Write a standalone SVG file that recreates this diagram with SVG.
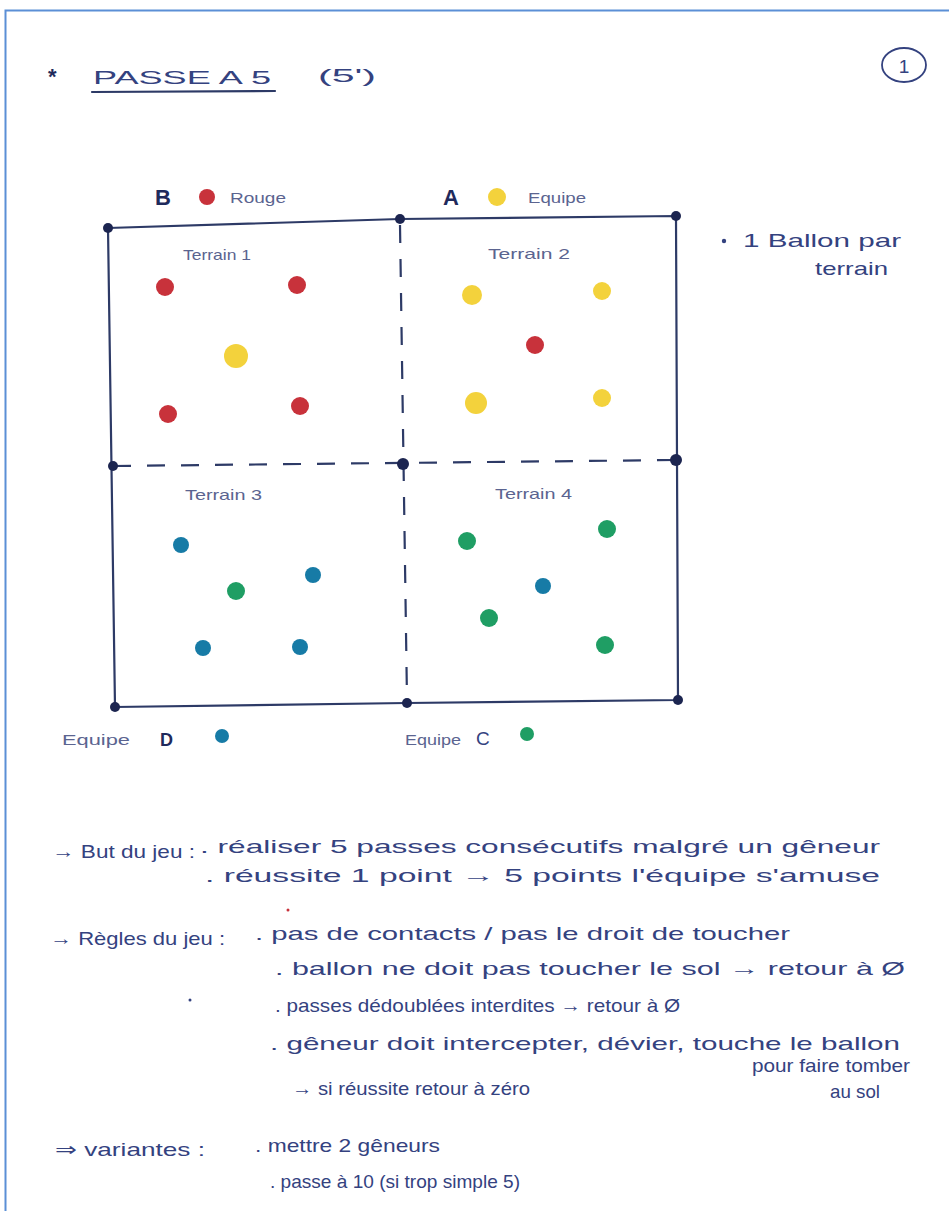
<svg xmlns="http://www.w3.org/2000/svg" width="949" height="1211" viewBox="0 0 949 1211">
<style>
.ink{font-family:"Liberation Sans","DejaVu Sans",sans-serif;fill:#34427f;font-size:19px}
.lbl{font-family:"Liberation Sans","DejaVu Sans",sans-serif;fill:#5b6490;font-size:15px}
.bold{font-family:"Liberation Sans","DejaVu Sans",sans-serif;fill:#1f2a5c;font-weight:bold}
.line{stroke:#2d3a66;stroke-width:2.2;fill:none;stroke-linecap:round}
.dash{stroke:#2d3a66;stroke-width:2.2;fill:none;stroke-dasharray:18 16}
.corner{fill:#1c2550}
.red{fill:#c8323b}.yel{fill:#f3d23c}.blu{fill:#177ba6}.grn{fill:#1f9e64}
</style>
<rect x="0" y="0" width="949" height="1211" fill="#ffffff"/>
<rect x="5.5" y="10.5" width="960" height="1230" fill="none" stroke="#5b8fd6" stroke-width="2"/>

<g id="title">
<text x="48" y="84" class="bold" font-size="22">*</text>
<text x="93" y="84" class="ink" font-size="28" textLength="178" lengthAdjust="spacingAndGlyphs">PASSE A 5</text>
<line x1="92" y1="92" x2="275" y2="91" class="line"/>
<text x="318" y="82" class="ink" font-size="28" textLength="58" lengthAdjust="spacingAndGlyphs">(5')</text>
<ellipse cx="904" cy="65" rx="22" ry="17" fill="none" stroke="#34427f" stroke-width="1.8"/>
<text x="904" y="73" class="ink" font-size="20" text-anchor="middle">1</text>
</g>

<g id="legend">
<text x="155" y="205" class="bold" font-size="22">B</text>
<circle cx="207" cy="197" r="8" class="red"/>
<text x="230" y="203" class="lbl" textLength="56" lengthAdjust="spacingAndGlyphs">Rouge</text>
<text x="443" y="205" class="bold" font-size="22">A</text>
<circle cx="497" cy="197" r="9" class="yel"/>
<text x="528" y="203" class="lbl" textLength="58" lengthAdjust="spacingAndGlyphs">Equipe</text>
<text x="62" y="745" class="lbl" textLength="68" lengthAdjust="spacingAndGlyphs">Equipe</text>
<text x="160" y="746" class="bold" font-size="18">D</text>
<circle cx="222" cy="736" r="7" class="blu"/>
<text x="405" y="745" class="lbl" textLength="56" lengthAdjust="spacingAndGlyphs">Equipe</text>
<text x="476" y="745" class="ink" font-size="20">C</text>
<circle cx="527" cy="734" r="7" class="grn"/>
</g>

<g id="field">
<path d="M108 228 L400 219 L676 216 L678 700 L407 703 L115 707 Z" class="line"/>
<line x1="113" y1="466" x2="676" y2="460" class="dash"/>
<line x1="400" y1="225" x2="407" y2="700" class="dash"/>
<circle cx="108" cy="228" r="5" class="corner"/>
<circle cx="400" cy="219" r="5" class="corner"/>
<circle cx="676" cy="216" r="5" class="corner"/>
<circle cx="113" cy="466" r="5" class="corner"/>
<circle cx="403" cy="464" r="6" class="corner"/>
<circle cx="676" cy="460" r="6" class="corner"/>
<circle cx="115" cy="707" r="5" class="corner"/>
<circle cx="407" cy="703" r="5" class="corner"/>
<circle cx="678" cy="700" r="5" class="corner"/>
</g>

<g id="terrain1">
<text x="183" y="260" class="lbl" textLength="68" lengthAdjust="spacingAndGlyphs">Terrain 1</text>
<circle cx="165" cy="287" r="9" class="red"/>
<circle cx="297" cy="285" r="9" class="red"/>
<circle cx="168" cy="414" r="9" class="red"/>
<circle cx="300" cy="406" r="9" class="red"/>
<circle cx="236" cy="356" r="12" class="yel"/>
</g>
<g id="terrain2">
<text x="488" y="259" class="lbl" textLength="82" lengthAdjust="spacingAndGlyphs">Terrain 2</text>
<circle cx="472" cy="295" r="10" class="yel"/>
<circle cx="602" cy="291" r="9" class="yel"/>
<circle cx="476" cy="403" r="11" class="yel"/>
<circle cx="602" cy="398" r="9" class="yel"/>
<circle cx="535" cy="345" r="9" class="red"/>
</g>
<g id="terrain3">
<text x="185" y="500" class="lbl" textLength="77" lengthAdjust="spacingAndGlyphs">Terrain 3</text>
<circle cx="181" cy="545" r="8" class="blu"/>
<circle cx="313" cy="575" r="8" class="blu"/>
<circle cx="203" cy="648" r="8" class="blu"/>
<circle cx="300" cy="647" r="8" class="blu"/>
<circle cx="236" cy="591" r="9" class="grn"/>
</g>
<g id="terrain4">
<text x="495" y="499" class="lbl" textLength="77" lengthAdjust="spacingAndGlyphs">Terrain 4</text>
<circle cx="467" cy="541" r="9" class="grn"/>
<circle cx="607" cy="529" r="9" class="grn"/>
<circle cx="489" cy="618" r="9" class="grn"/>
<circle cx="605" cy="645" r="9" class="grn"/>
<circle cx="543" cy="586" r="8" class="blu"/>
</g>

<g id="note">
<circle cx="724" cy="241" r="2.2" fill="#34427f"/>
<text x="743" y="247" class="ink" font-size="18" textLength="158" lengthAdjust="spacingAndGlyphs">1 Ballon par</text>
<text x="815" y="275" class="ink" font-size="18" textLength="73" lengthAdjust="spacingAndGlyphs">terrain</text>
</g>

<g id="rules">
<text x="52" y="858" class="ink" textLength="143" lengthAdjust="spacingAndGlyphs">→ But du jeu :</text>
<text x="200" y="853" class="ink" textLength="680" lengthAdjust="spacingAndGlyphs">. réaliser 5 passes consécutifs malgré un gêneur</text>
<text x="205" y="882" class="ink" textLength="675" lengthAdjust="spacingAndGlyphs">. réussite 1 point → 5 points l'équipe s'amuse</text>
<circle cx="288" cy="910" r="1.5" fill="#c8323b"/>
<text x="50" y="945" class="ink" textLength="175" lengthAdjust="spacingAndGlyphs">→ Règles du jeu :</text>
<text x="255" y="940" class="ink" textLength="535" lengthAdjust="spacingAndGlyphs">. pas de contacts / pas le droit de toucher</text>
<text x="275" y="975" class="ink" textLength="630" lengthAdjust="spacingAndGlyphs">. ballon ne doit pas toucher le sol → retour à Ø</text>
<circle cx="190" cy="1000" r="1.5" fill="#34427f"/>
<text x="275" y="1012" class="ink" textLength="405" lengthAdjust="spacingAndGlyphs">. passes dédoublées interdites → retour à Ø</text>
<text x="270" y="1050" class="ink" textLength="630" lengthAdjust="spacingAndGlyphs">. gêneur doit intercepter, dévier, touche le ballon</text>
<text x="752" y="1072" class="ink" font-size="17" textLength="158" lengthAdjust="spacingAndGlyphs">pour faire tomber</text>
<text x="292" y="1095" class="ink" textLength="238" lengthAdjust="spacingAndGlyphs">→ si réussite retour à zéro</text>
<text x="830" y="1098" class="ink" font-size="17" textLength="50" lengthAdjust="spacingAndGlyphs">au sol</text>
<text x="55" y="1156" class="ink" textLength="150" lengthAdjust="spacingAndGlyphs">⇒ variantes :</text>
<text x="255" y="1152" class="ink" textLength="185" lengthAdjust="spacingAndGlyphs">. mettre 2 gêneurs</text>
<text x="270" y="1188" class="ink" textLength="250" lengthAdjust="spacingAndGlyphs">. passe à 10 (si trop simple 5)</text>
</g>
</svg>
